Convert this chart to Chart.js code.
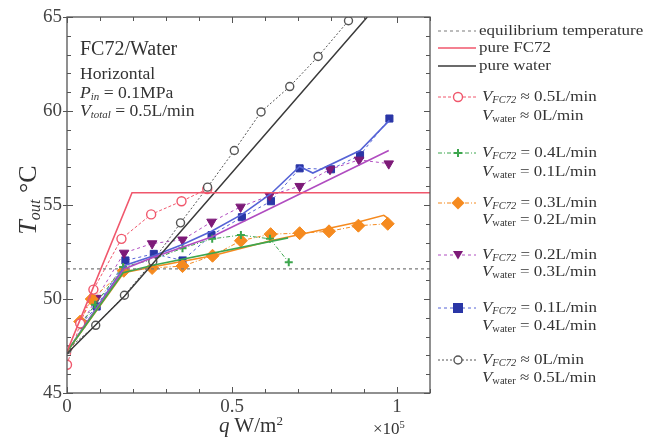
<!DOCTYPE html>
<html>
<head>
<meta charset="utf-8">
<script src="https://cdn.jsdelivr.net/npm/chart.js@4.4.0/dist/chart.umd.min.js"></script>
<style>
  html,body{margin:0;padding:0;background:#fff;}
  #wrap{position:relative;width:648px;height:443px;overflow:hidden;font-family:"Liberation Serif","Times New Roman",serif;color:#333;}
  canvas{position:absolute;left:0;top:0;}
  .t{position:absolute;white-space:nowrap;line-height:1;transform-origin:0 50%;}
  sub{font-size:62%;vertical-align:-0.25em;line-height:0;}
  sup{font-size:62%;vertical-align:0.55em;line-height:0;}
  .lg{font-size:15px;transform:scaleX(1.13);}
  .an{font-size:16px;transform:scaleX(1.1);}
</style>
</head>
<body>
<div id="wrap">
<canvas id="c" width="648" height="443"></canvas>

<div class="t" style="left:80px;top:38px;font-size:20px;">FC72/Water</div>
<div class="t an" style="left:80px;top:66px;">Horizontal</div>
<div class="t an" style="left:80px;top:85px;"><i>P</i><sub><i>in</i></sub> = 0.1MPa</div>
<div class="t an" style="left:80px;top:103px;"><i>V</i><sub><i>total</i></sub> = 0.5L/min</div>

<div class="t" style="left:219px;top:415px;font-size:21px;"><i>q</i> W/m<sup>2</sup></div>
<div class="t" style="left:373px;top:420px;font-size:17px;">×10<sup>5</sup></div>
<div class="t" style="left:-32px;top:187px;font-size:26px;width:120px;text-align:center;transform:rotate(-90deg);transform-origin:50% 50%;"><i>T</i><sub><i>out</i></sub> °C</div>

<svg id="lgsvg" style="position:absolute;left:0;top:0;" width="648" height="443"></svg>
<div class="t lg" style="left:479px;top:23px;">equilibrium temperature</div>
<div class="t lg" style="left:479px;top:40px;">pure FC72</div>
<div class="t lg" style="left:479px;top:58px;">pure water</div>

<div class="t lg" style="left:482px;top:89px;"><i>V</i><sub><i>FC72</i></sub> ≈ 0.5L/min</div>
<div class="t lg" style="left:482px;top:108px;"><i>V</i><sub>water</sub> ≈ 0L/min</div>
<div class="t lg" style="left:482px;top:145px;"><i>V</i><sub><i>FC72</i></sub> = 0.4L/min</div>
<div class="t lg" style="left:482px;top:164px;"><i>V</i><sub>water</sub> = 0.1L/min</div>
<div class="t lg" style="left:482px;top:195px;"><i>V</i><sub><i>FC72</i></sub> = 0.3L/min</div>
<div class="t lg" style="left:482px;top:212px;"><i>V</i><sub>water</sub> = 0.2L/min</div>
<div class="t lg" style="left:482px;top:247px;"><i>V</i><sub><i>FC72</i></sub> = 0.2L/min</div>
<div class="t lg" style="left:482px;top:264px;"><i>V</i><sub>water</sub> = 0.3L/min</div>
<div class="t lg" style="left:482px;top:300px;"><i>V</i><sub><i>FC72</i></sub> = 0.1L/min</div>
<div class="t lg" style="left:482px;top:318px;"><i>V</i><sub>water</sub> = 0.4L/min</div>
<div class="t lg" style="left:482px;top:352px;"><i>V</i><sub><i>FC72</i></sub> ≈ 0L/min</div>
<div class="t lg" style="left:482px;top:370px;"><i>V</i><sub>water</sub> ≈ 0.5L/min</div>
</div>

<script>
// ---- data (q in 1e5 W/m2, T in degC) ----
const qEq = [0, 1.1];
const tEq = [51.6, 51.6];
const qPureFC = [0, 0.197, 1.1];
const tPureFC = [47.2, 55.65, 55.65];
const qPureW = [0, 0.174, 0.91];
const tPureW = [47.1, 50.15, 65];

const qFC05 = [0, 0.04, 0.08, 0.165, 0.255, 0.347, 0.425];
const tFC05 = [46.5, 48.7, 50.5, 53.2, 54.5, 55.2, 55.85];

const qFC04 = [0.04, 0.085, 0.17, 0.26, 0.35, 0.44, 0.527, 0.615, 0.672];
const tFC04 = [48.6, 49.7, 51.7, 52.1, 52.7, 53.2, 53.4, 53.2, 51.95];
const qM04 = [0, 0.17, 0.26, 0.67];
const tM04 = [47.2, 51.4, 51.8, 53.25];

const qFC03 = [0.04, 0.075, 0.172, 0.258, 0.35, 0.441, 0.527, 0.617, 0.705, 0.794, 0.883, 0.972];
const tFC03 = [48.8, 50.0, 51.5, 51.65, 51.75, 52.3, 53.1, 53.45, 53.5, 53.6, 53.9, 54.0];
const qM03 = [0, 0.172, 0.258, 0.441, 0.617, 0.883, 0.96, 0.972];
const tM03 = [47.2, 51.4, 51.7, 52.3, 53.1, 54.1, 54.45, 54.3];

const qFC02 = [0.045, 0.09, 0.173, 0.258, 0.35, 0.438, 0.526, 0.614, 0.705, 0.797, 0.885, 0.975];
const tFC02 = [48.7, 50.05, 52.45, 52.95, 53.15, 54.1, 54.9, 55.5, 56.0, 56.9, 57.4, 57.2];
const qM02 = [0, 0.173, 0.258, 0.438, 0.614, 0.975];
const tM02 = [47.2, 51.6, 52.2, 53.3, 54.8, 57.9];

const qFC01 = [0.045, 0.09, 0.177, 0.263, 0.35, 0.438, 0.53, 0.618, 0.705, 0.8, 0.888, 0.977];
const tFC01 = [48.7, 49.6, 52.05, 52.4, 52.05, 53.4, 54.35, 55.2, 56.95, 56.9, 57.65, 59.6];
const qM01 = [0, 0.177, 0.263, 0.35, 0.438, 0.53, 0.618, 0.705, 0.745, 0.888, 0.977];
const tM01 = [47.2, 51.8, 52.3, 52.9, 53.6, 54.5, 55.6, 57.05, 56.7, 57.9, 59.5];

const qFC00 = [0, 0.087, 0.174, 0.26, 0.344, 0.426, 0.507, 0.588, 0.675, 0.761, 0.853];
const tFC00 = [47.3, 48.6, 50.2, 52.0, 54.05, 55.95, 57.9, 59.95, 61.3, 62.9, 64.8];

const xTickLabels = {0: '0', 0.5: '0.5', 1: '1'};
const yTickLabels = {45: '45', 50: '50', 55: '55', 60: '60', 65: '65'};

// ---- colours ----
const C = {
  eq: '#7a7a7a', red: '#f0576c', black: '#3a3a3a', green: '#3da64e',
  orange: '#f58a1f', purpleM: '#7d1a78', purpleL: '#b04cc0',
  blueM: '#2a36a6', blueL: '#5563d6', gray: '#555'
};

const pts = (xs, ys) => xs.map((x, i) => ({x, y: ys[i]}));
function lineDS(xs, ys, color, width, dash) {
  return {data: pts(xs, ys), showLine: true, borderColor: color, borderWidth: width,
    borderDash: dash || [], pointRadius: 0, pointHoverRadius: 0, fill: false, tension: 0};
}
function dataDS(xs, ys, color, mcolor, style, r, filled, dash, rot, bw) {
  return {data: pts(xs, ys), showLine: true, borderColor: color, borderWidth: 1,
    borderDash: dash, pointStyle: style, pointRadius: r, pointRotation: rot || 0,
    pointBackgroundColor: filled ? mcolor : '#fff', pointBorderColor: mcolor,
    pointBorderWidth: bw || (filled ? 1 : 1.4), fill: false, tension: 0};
}

const datasets = [
  lineDS(qEq, tEq, C.eq, 1.2, [3, 3]),
  lineDS(qPureFC, tPureFC, C.red, 1.6),
  lineDS(qPureW, tPureW, C.black, 1.5),
  lineDS(qM04, tM04, C.green, 1.6),
  lineDS(qM03, tM03, C.orange, 1.6),
  lineDS(qM02, tM02, C.purpleL, 1.6),
  lineDS(qM01, tM01, C.blueL, 1.6),
  dataDS(qFC00, tFC00, C.gray, C.gray, 'circle', 4, false, [2, 2]),
  dataDS(qFC05, tFC05, C.red, C.red, 'circle', 4.5, false, [3, 2]),
  dataDS(qFC04, tFC04, C.green, C.green, 'cross', 4, true, [4, 2, 1, 2], 0, 2),
  dataDS(qFC03, tFC03, C.orange, C.orange, 'rectRot', 6.5, true, [4, 2, 1, 2]),
  dataDS(qFC02, tFC02, C.purpleL, C.purpleM, 'triangle', 5.5, true, [3, 3], 180),
  dataDS(qFC01, tFC01, C.blueL, C.blueM, 'rect', 5, true, [3, 3]),
];

const frameTicks = {
  id: 'frameTicks',
  afterDraw(chart) {
    const {ctx, chartArea: a, scales} = chart;
    ctx.save();
    ctx.strokeStyle = '#555';
    ctx.lineWidth = 1.3;
    ctx.strokeRect(a.left, a.top, a.right - a.left, a.bottom - a.top);
    ctx.lineWidth = 1;
    scales.x.ticks.forEach(t => {
      const px = Math.round(scales.x.getPixelForValue(t.value)) + 0.5;
      const major = t.label !== '';
      const L = major ? 6 : 4;
      ctx.beginPath();
      ctx.moveTo(px, a.bottom); ctx.lineTo(px, a.bottom - L);
      ctx.moveTo(px, a.top); ctx.lineTo(px, a.top + L);
      ctx.stroke();
    });
    scales.y.ticks.forEach(t => {
      const py = Math.round(scales.y.getPixelForValue(t.value)) + 0.5;
      const major = t.label !== '';
      const L = major ? 6 : 4;
      ctx.beginPath();
      ctx.moveTo(a.left - (major ? 4 : 0), py); ctx.lineTo(a.left + L, py);
      ctx.moveTo(a.right, py); ctx.lineTo(a.right - L, py);
      ctx.stroke();
    });
    ctx.restore();
  }
};

new Chart(document.getElementById('c'), {
  type: 'scatter',
  data: {datasets},
  options: {
    responsive: false, animation: false, devicePixelRatio: 1,
    layout: {padding: {left: 0, top: 17, right: 218, bottom: 0}},
    plugins: {legend: {display: false}, tooltip: {enabled: false}},
    scales: {
      x: {
        type: 'linear', min: 0, max: 1.1,
        grid: {display: false, drawTicks: false}, border: {display: false},
        ticks: {
          stepSize: 0.1, padding: 3, color: '#444', maxRotation: 0, autoSkip: false,
          font: {family: 'Liberation Serif', size: 19},
          callback: v => { const k = Math.round(v * 10) / 10; return xTickLabels[k] !== undefined ? xTickLabels[k] : ''; }
        },
        afterFit: s => { s.height = 50; }
      },
      y: {
        type: 'linear', min: 45, max: 65,
        grid: {display: false, drawTicks: false}, border: {display: false},
        ticks: {
          stepSize: 1, padding: 5, color: '#444', autoSkip: false,
          font: {family: 'Liberation Serif', size: 19},
          callback: v => { const k = Math.round(v); return yTickLabels[k] !== undefined ? yTickLabels[k] : ''; }
        },
        afterFit: s => { s.width = 67; }
      }
    }
  },
  plugins: [frameTicks]
});

// ---- legend symbols ----
const svg = document.getElementById('lgsvg');
const NS = 'http://www.w3.org/2000/svg';
function el(tag, attrs) { const e = document.createElementNS(NS, tag); for (const k in attrs) e.setAttribute(k, attrs[k]); svg.appendChild(e); return e; }
function lgLine(y, color, dash, w) { el('line', {x1: 438, y1: y, x2: 476, y2: y, stroke: color, 'stroke-width': w || 1.3, 'stroke-dasharray': dash || ''}); }
lgLine(31, C.eq, '3,3', 1.2);
lgLine(48, C.red, '', 1.6);
lgLine(66, C.black, '', 1.5);
const mx = 458;
lgLine(97, C.red, '3,2', 1); el('circle', {cx: mx, cy: 97, r: 4.5, fill: '#fff', stroke: C.red, 'stroke-width': 1.4});
lgLine(153, C.green, '4,2,1,2', 1); el('path', {d: `M${mx-4},153 h8 M${mx},149 v8`, stroke: C.green, 'stroke-width': 2});
lgLine(203, C.orange, '4,2,1,2', 1); el('path', {d: `M${mx},${203-6.5} l6.5,6.5 l-6.5,6.5 l-6.5,-6.5 z`, fill: C.orange});
lgLine(255, C.purpleL, '3,3', 1); el('path', {d: `M${mx-5},251 h10 l-5,8.5 z`, fill: C.purpleM});
lgLine(308, C.blueL, '3,3', 1); el('rect', {x: mx - 5, y: 303, width: 10, height: 10, fill: C.blueM});
lgLine(360, C.gray, '2,2', 1); el('circle', {cx: mx, cy: 360, r: 4, fill: '#fff', stroke: C.gray, 'stroke-width': 1.4});
</script>
</body>
</html>
